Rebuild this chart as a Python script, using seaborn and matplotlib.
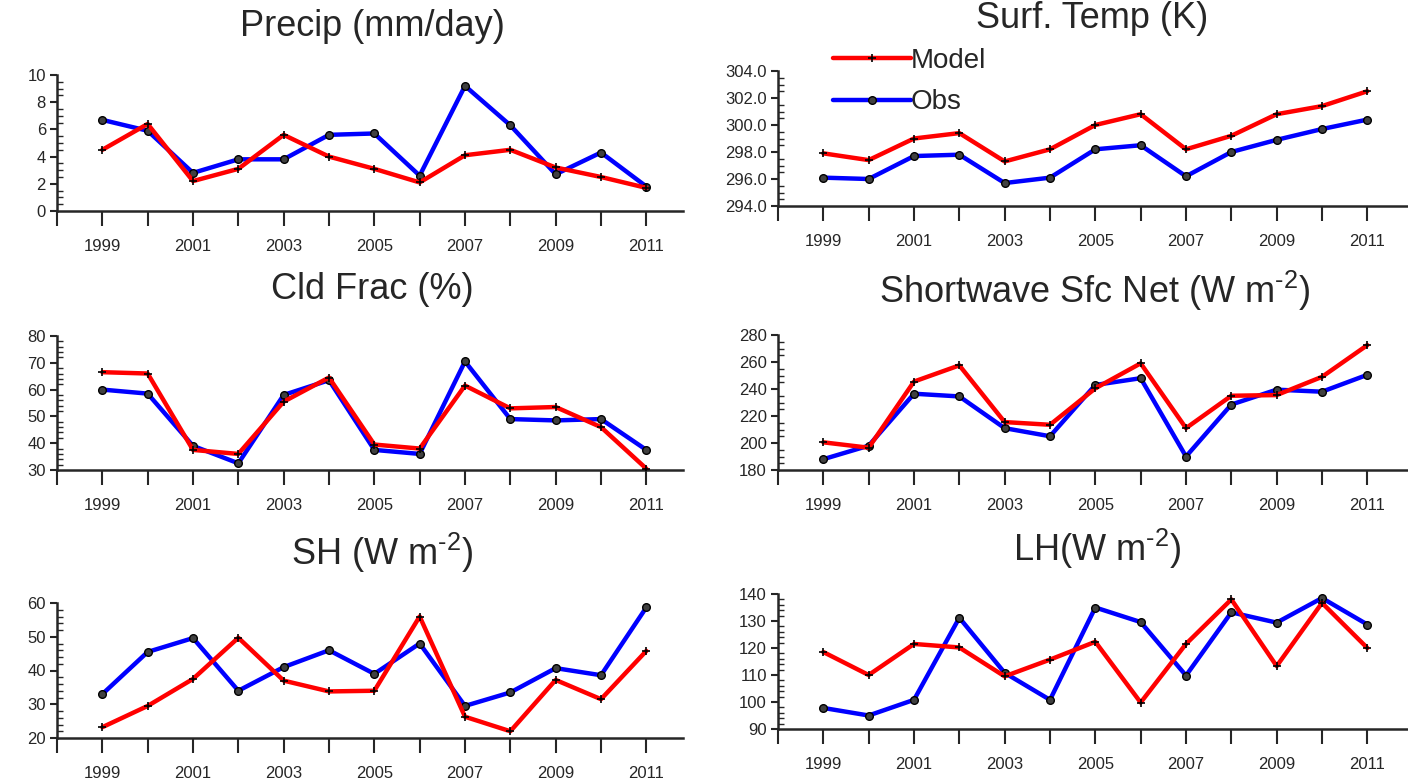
import numpy as np
import pandas as pd
import seaborn as sns
import matplotlib.pyplot as plt
from matplotlib.ticker import MultipleLocator, FormatStrFormatter

years = list(range(1999, 2012))

precip_model = [4.5, 6.4, 2.2, 3.1, 5.6, 4.0, 3.1, 2.1, 4.1, 4.5, 3.2, 2.5, 1.7]
precip_obs = [6.7, 5.9, 2.8, 3.8, 3.8, 5.6, 5.7, 2.6, 9.2, 6.3, 2.7, 4.3, 1.8]

temp_model = [297.9, 297.4, 299.0, 299.4, 297.3, 298.2, 300.0, 300.8, 298.2, 299.2, 300.8, 301.4, 302.5]
temp_obs = [296.1, 296.0, 297.7, 297.8, 295.7, 296.1, 298.2, 298.5, 296.2, 298.0, 298.9, 299.7, 300.4]

cld_model = [66.5, 66.0, 37.5, 36.0, 55.5, 64.5, 39.5, 38.0, 61.5, 53.0, 53.5, 46.0, 30.5]
cld_obs = [60.0, 58.5, 39.0, 32.5, 58.0, 63.5, 37.5, 36.0, 70.5, 49.0, 48.5, 49.0, 37.5]

sw_model = [200.5, 196.5, 245.5, 257.5, 215.5, 213.5, 240.5, 259.0, 211.0, 235.0, 235.5, 249.0, 272.5]
sw_obs = [188.0, 198.0, 236.5, 234.5, 211.0, 205.0, 243.0, 248.0, 190.0, 228.5, 239.5, 238.0, 250.5]

sh_model = [23.2, 29.5, 37.5, 49.7, 37.0, 33.8, 34.0, 56.0, 26.3, 22.0, 37.2, 31.5, 45.8]
sh_obs = [33.0, 45.5, 49.6, 34.0, 41.0, 46.0, 39.0, 48.0, 29.5, 33.5, 40.7, 38.6, 58.7]

lh_model = [118.5, 110.0, 121.5, 120.2, 109.5, 115.7, 122.3, 99.8, 121.5, 138.0, 113.3, 136.7, 120.0]
lh_obs = [97.8, 95.0, 100.8, 131.2, 110.8, 100.8, 135.0, 129.6, 109.8, 133.2, 129.4, 138.5, 128.7]

titles = ['Precip (mm/day)', 'Surf. Temp (K)', 'Cld Frac (%)',
          'Shortwave Sfc Net (W m$^{\\text{-}2}$)', 'SH (W m$^{\\text{-}2}$)', 'LH(W m$^{\\text{-}2}$)']

sns.set_style('ticks')
plt.rcParams['font.family'] = ['Liberation Sans', 'DejaVu Sans']
plt.rcParams['mathtext.fontset'] = 'custom'
plt.rcParams['mathtext.rm'] = 'Liberation Sans'
plt.rcParams['mathtext.default'] = 'rm'

fig = plt.figure(figsize=(14.08, 7.79), dpi=100)
W, H = 1408, 779

# (model, obs, ylim, major, minor, fmt, axes px [left, right, top, bottom], title px [x, y])
panels = [
    (precip_model, precip_obs, (0, 10), 2, 0.5, '%d', (57, 683, 75, 211), (372, 26)),
    (temp_model, temp_obs, (294, 304), 2, 0.5, '%.1f', (778, 1408, 71, 206), (1092, 19)),
    (cld_model, cld_obs, (30, 80), 10, 2, '%d', (57, 683, 336, 470), (372, 290)),
    (sw_model, sw_obs, (180, 280), 20, 5, '%d', (778, 1408, 335, 470), (1095, 291)),
    (sh_model, sh_obs, (20, 60), 10, 2, '%d', (57, 683, 603, 738), (382, 553)),
    (lh_model, lh_obs, (90, 140), 10, 2, '%d', (778, 1408, 594, 729), (1097, 549)),
]

axes = []
for i, (mod, obs, ylim, major, minor, fmt, box, tpos) in enumerate(panels):
    l, r, t, b = box
    ax = fig.add_axes([l / W, 1 - b / H, (r - l) / W, (b - t) / H])
    sns.lineplot(x=years, y=obs, ax=ax, color='blue', lw=3.2, marker='o', ms=5.5,
                 mfc='#404040', mec='black', mew=1, label='Obs', zorder=3)
    sns.lineplot(x=years, y=mod, ax=ax, color='red', lw=3.2, marker='+', ms=6,
                 mec='black', mew=1.2, label='Model', zorder=4)
    ax.set_ylim(*ylim)
    xr = 1998 + (r - l) / ((646 - 102) / 12.0)
    ax.set_xlim(1998, xr)
    ax.set_xticks(list(range(1998, 2012)))
    ax.set_xticklabels([str(y) if y % 2 == 1 else '' for y in range(1998, 2012)])
    ax.yaxis.set_major_locator(MultipleLocator(major))
    ax.yaxis.set_minor_locator(MultipleLocator(minor))
    ax.yaxis.set_major_formatter(FormatStrFormatter(fmt))
    ax.tick_params(axis='x', direction='out', length=11, width=1.5, pad=9, labelsize=12)
    ax.tick_params(axis='y', which='major', direction='out', length=5, width=1.5, pad=3, labelsize=12)
    ax.tick_params(axis='y', which='minor', direction='in', length=4, width=1)
    for s in ['top', 'right']:
        ax.spines[s].set_visible(False)
    for s in ['left', 'bottom']:
        ax.spines[s].set_linewidth(1.8)
    ax.set_xlabel('')
    ax.set_ylabel('')
    ax.get_legend().remove()
    ax.patch.set_alpha(0)
    fig.text(tpos[0] / W, 1 - tpos[1] / H, titles[i], ha='center', va='center', fontsize=26)
    axes.append(ax)

h, lab = axes[1].get_legend_handles_labels()
order = [lab.index('Model'), lab.index('Obs')]
fig.legend([h[k] for k in order], [lab[k] for k in order], loc='upper left',
           bbox_to_anchor=(833 / W, 1 - 48 / H), frameon=False, fontsize=20,
           handlelength=2.8, handletextpad=0.0, labelspacing=0.55, borderpad=0,
           borderaxespad=0)

fig.savefig('out.png', dpi=100)
